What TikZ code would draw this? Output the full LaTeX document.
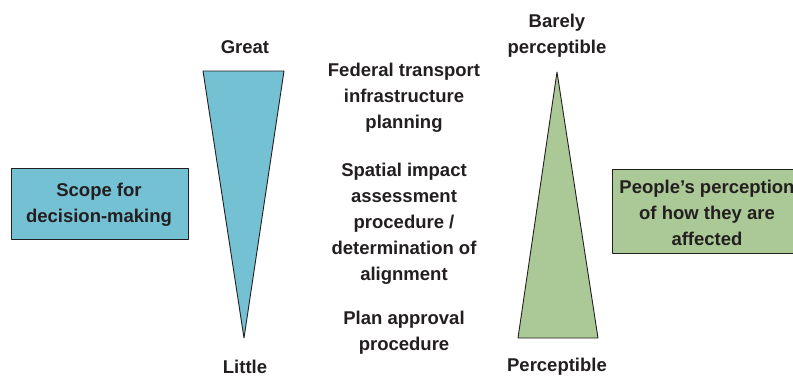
\documentclass[tikz,border=0pt]{standalone}
\usepackage{fontspec}
\setmainfont{Liberation Sans}
\definecolor{scopeblue}{RGB}{116,193,212}
\definecolor{perceptgreen}{RGB}{170,201,150}
\definecolor{inkgray}{RGB}{35,31,32}
\tikzset{
	lbl/.style={align=center, text=inkgray, font=\fontsize{18.5}{26}\selectfont\bfseries, inner sep=0pt},
	wedge/.style={draw=inkgray, line width=0.9pt, line join=round}
}
\begin{document}
\begin{tikzpicture}[x=1pt, y=1pt]
	\useasboundingbox (0,0) rectangle (793,376);
	\clip (0,0) rectangle (793,376);

	% Draw boxes
	\draw[wedge, fill=scopeblue] (11,137) rectangle (188,208);
	\draw[wedge, fill=perceptgreen] (612,123) rectangle (805,207);

	% Draw wedges
	\draw[wedge, fill=scopeblue] (203,305) -- (284,305) -- (244,38) -- cycle;
	\draw[wedge, fill=perceptgreen] (557,304) -- (598,38) -- (518,38) -- cycle;

	% Draw text
	\node[lbl] (scope) at (99,171) {Scope for\\decision-making};
	\node[lbl] (people) at (707,163) {People’s perception\\of how they are\\affected};
	\node[lbl] (great) at (245,329) {Great};
	\node[lbl] (little) at (245,9.5) {Little};
	\node[lbl] (barely) at (557,340) {Barely\\perceptible};
	\node[lbl] (percept) at (557,9) {Perceptible};
	\node[lbl] (federal) at (404,278.5) {Federal transport\\infrastructure\\planning};
	\node[lbl] (spatial) at (404,152) {Spatial impact\\assessment\\procedure /\\determination of\\alignment};
	\node[lbl] (approval) at (404,43.5) {Plan approval\\procedure};
\end{tikzpicture}
\end{document}
